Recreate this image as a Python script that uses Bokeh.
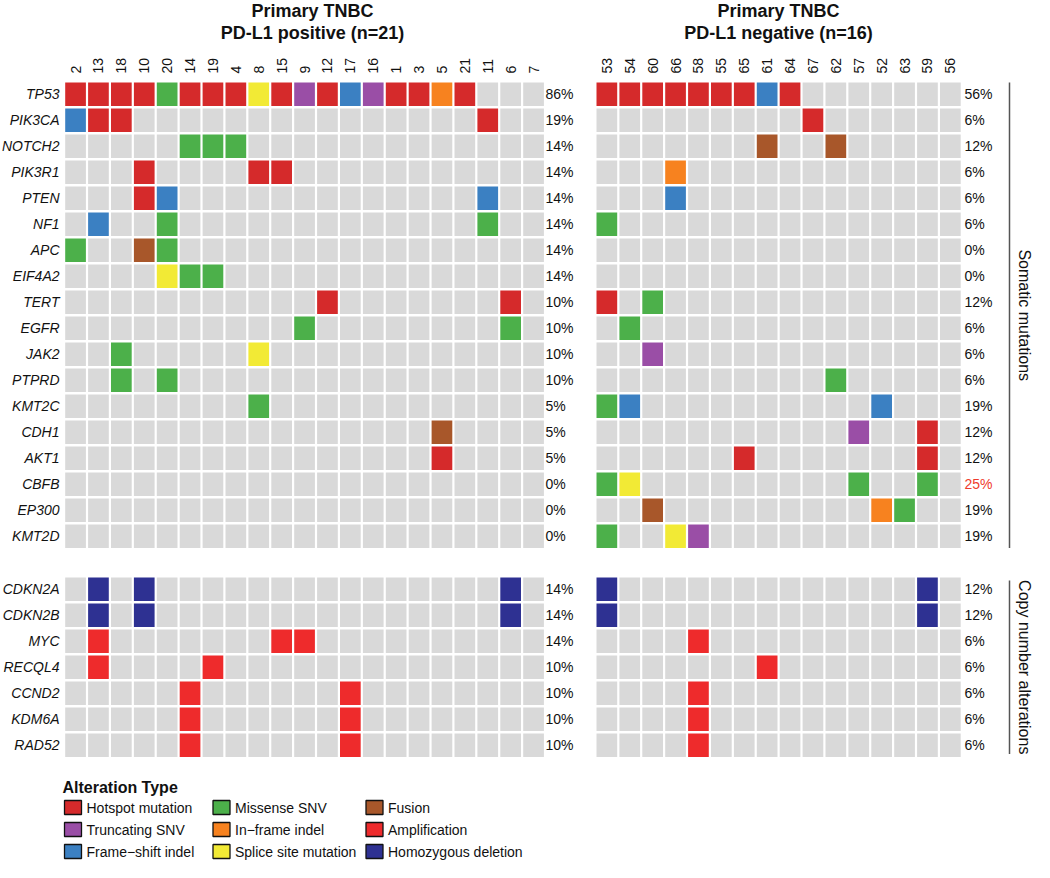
from bokeh.plotting import figure
from bokeh.models import ColumnDataSource, Range1d
from bokeh.core.properties import value
from bokeh.embed import file_html
from bokeh.resources import INLINE
import math

# ---------------- data ----------------
LEFT_SAMPLES = ["2", "13", "18", "10", "20", "14", "19", "4", "8", "15", "9",
                "12", "17", "16", "1", "3", "5", "21", "11", "6", "7"]
RIGHT_SAMPLES = ["53", "54", "60", "66", "58", "55", "65", "61", "64", "67",
                 "62", "57", "52", "63", "59", "56"]

SOMATIC_GENES = ["TP53", "PIK3CA", "NOTCH2", "PIK3R1", "PTEN", "NF1", "APC",
                 "EIF4A2", "TERT", "EGFR", "JAK2", "PTPRD", "KMT2C", "CDH1",
                 "AKT1", "CBFB", "EP300", "KMT2D"]
CNA_GENES = ["CDKN2A", "CDKN2B", "MYC", "RECQL4", "CCND2", "KDM6A", "RAD52"]

# one string per gene, one character per sample ('.' = no alteration)
# H hotspot, T truncating, F frame-shift, M missense, I in-frame,
# S splice site, U fusion, A amplification, D homozygous deletion
LEFT_SOMATIC = [
    "HHHHMHHHSHTHFTHHIH...",
    "FHH...............H..",
    ".....MMM.............",
    "...H....HH...........",
    "...HF.............F..",
    ".F..M.............M..",
    "M..UM................",
    "....SMM..............",
    "...........H.......H.",
    "..........M........M.",
    "..M.....S............",
    "..M.M................",
    "........M............",
    "................U....",
    "................H....",
    ".....................",
    ".....................",
    ".....................",
]
LEFT_CNA = [
    ".D.D...............D.",
    ".D.D...............D.",
    ".A.......AA..........",
    ".A....A..............",
    ".....A......A........",
    ".....A......A........",
    ".....A......A........",
]
RIGHT_SOMATIC = [
    "HHHHHHHFH.......",
    ".........H......",
    ".......U..U.....",
    "...I............",
    "...F............",
    "M...............",
    "................",
    "................",
    "H.M.............",
    ".M..............",
    "..T.............",
    "..........M.....",
    "MF..........F...",
    "...........T..H.",
    "......H.......H.",
    "MS.........M..M.",
    "..U.........IM..",
    "M..ST...........",
]
RIGHT_CNA = [
    "D.............D.",
    "D.............D.",
    "....A...........",
    ".......A........",
    "....A...........",
    "....A...........",
    "....A...........",
]

LEFT_SOMATIC_PCT = ["86%", "19%", "14%", "14%", "14%", "14%", "14%", "14%", "10%",
                    "10%", "10%", "10%", "5%", "5%", "5%", "0%", "0%", "0%"]
LEFT_CNA_PCT = ["14%", "14%", "14%", "10%", "10%", "10%", "10%"]
RIGHT_SOMATIC_PCT = ["56%", "6%", "12%", "6%", "6%", "6%", "0%", "0%", "12%",
                     "6%", "6%", "6%", "19%", "12%", "12%", "25%", "19%", "19%"]
RIGHT_CNA_PCT = ["12%", "12%", "6%", "6%", "6%", "6%", "6%"]
HIGHLIGHT_GENES = ["CBFB"]  # highlighted frequency in the PD-L1 negative panel

LEGEND_CODES = ["H", "T", "F", "M", "I", "S", "U", "A", "D"]
LEGEND_LABELS = ["Hotspot mutation", "Truncating SNV", "Frame\u2212shift indel",
                 "Missense SNV", "In\u2212frame indel", "Splice site mutation",
                 "Fusion", "Amplification", "Homozygous deletion"]

# ---------------- styles ----------------
COLORS = {
    "H": "#d52a2b", "T": "#9a4ea6", "F": "#3b80c2", "M": "#4cb04a",
    "I": "#f7821f", "S": "#f2ea35", "U": "#a8572a", "A": "#ee2b2c",
    "D": "#2e3192", ".": "#d9d9d9",
}
FONT = value("Liberation Sans")
TXT = "#111111"

PX, PY = 22.9, 26.0          # column / row pitch
CW, CH = 20.7, 23.5          # cell size
LEFT_X0, RIGHT_X0 = 72.7, 604.0
SOM_Y0, CNA_Y0 = 90.0, 585.0

for rows, n in [(LEFT_SOMATIC, 21), (LEFT_CNA, 21), (RIGHT_SOMATIC, 16), (RIGHT_CNA, 16)]:
    for r in rows:
        assert len(r) == n, (r, len(r))

p = figure(width=1034, height=862, x_range=Range1d(8, 1042), y_range=Range1d(870, 8),
           output_backend="svg", toolbar_location=None, min_border=0,
           x_axis_location=None, y_axis_location=None, outline_line_color=None,
           background_fill_color="white", border_fill_color="white")
p.grid.visible = False

# ---------------- cells ----------------
cx, cy, cc = [], [], []
def add_block(rows, x0, y0):
    for gi, row in enumerate(rows):
        for si, code in enumerate(row):
            cx.append(x0 + CW / 2 + si * PX)
            cy.append(y0 + CH / 2 + gi * PY)
            cc.append(COLORS[code])

add_block(LEFT_SOMATIC, LEFT_X0, SOM_Y0)
add_block(LEFT_CNA, LEFT_X0, CNA_Y0)
add_block(RIGHT_SOMATIC, RIGHT_X0, SOM_Y0)
add_block(RIGHT_CNA, RIGHT_X0, CNA_Y0)
p.rect(x="x", y="y", width=CW, height=CH, fill_color="c", line_color=None,
       source=ColumnDataSource(dict(x=cx, y=cy, c=cc)))

# ---------------- gene labels ----------------
genes = SOMATIC_GENES + CNA_GENES
gy = [SOM_Y0 + CH / 2 + i * PY for i in range(len(SOMATIC_GENES))] + \
     [CNA_Y0 + CH / 2 + i * PY for i in range(len(CNA_GENES))]
p.text(x=[67] * len(genes), y=gy, text=genes, text_align="right", text_baseline="middle",
       text_font=FONT, text_font_size="14px", text_font_style="italic", text_color=TXT)

# ---------------- percentages ----------------
lp = LEFT_SOMATIC_PCT + LEFT_CNA_PCT
rp = RIGHT_SOMATIC_PCT + RIGHT_CNA_PCT
p.text(x=[553] * len(lp), y=gy, text=lp, text_align="left", text_baseline="middle",
       text_font=FONT, text_font_size="14px", text_color=TXT)
rcol = ["#ef3b2c" if g in HIGHLIGHT_GENES else TXT for g in genes]
p.text(x=[972] * len(rp), y=gy, text=rp, text_align="left", text_baseline="middle",
       text_font=FONT, text_font_size="14px", text_color=rcol)

# ---------------- sample labels ----------------
for samples, x0 in [(LEFT_SAMPLES, LEFT_X0), (RIGHT_SAMPLES, RIGHT_X0)]:
    xs = [x0 + CW / 2 + i * PX for i in range(len(samples))]
    p.text(x=xs, y=[81] * len(xs), text=samples, angle=math.pi / 2,
           text_align="left", text_baseline="middle", text_font=FONT,
           text_font_size="14px", text_color=TXT)

# ---------------- titles ----------------
p.text(x=[320, 320], y=[18, 40], text=["Primary TNBC", "PD-L1 positive (n=21)"],
       text_align="center", text_baseline="middle", text_font=FONT,
       text_font_size="18px", text_font_style="bold", text_color=TXT)
p.text(x=[786, 786], y=[18, 40], text=["Primary TNBC", "PD-L1 negative (n=16)"],
       text_align="center", text_baseline="middle", text_font=FONT,
       text_font_size="18px", text_font_style="bold", text_color=TXT)

# ---------------- side brackets ----------------
som_bot = SOM_Y0 + (len(SOMATIC_GENES) - 1) * PY + CH
cna_bot = CNA_Y0 + (len(CNA_GENES) - 1) * PY + CH
p.segment(x0=[1017, 1017], y0=[SOM_Y0, CNA_Y0 + 3], x1=[1017, 1017], y1=[som_bot, cna_bot - 3],
          line_color="#555555", line_width=1.5)
p.text(x=[1032, 1032], y=[(SOM_Y0 + som_bot) / 2, (CNA_Y0 + cna_bot) / 2],
       text=["Somatic mutations", "Copy number alterations"], angle=-math.pi / 2,
       text_align="center", text_baseline="middle", text_font=FONT,
       text_font_size="16px", text_color=TXT)

# ---------------- legend ----------------
p.text(x=[70], y=[795], text=["Alteration Type"], text_align="left", text_baseline="middle",
       text_font=FONT, text_font_size="16px", text_font_style="bold", text_color=TXT)
col_x = [72.0, 220.5, 373.5]
lx, ly, lc, tx = [], [], [], []
for k, code in enumerate(LEGEND_CODES):
    col, row = divmod(k, 3)
    lx.append(col_x[col] + 8.5)
    ly.append(815 + row * 22)
    lc.append(COLORS[code])
    tx.append(col_x[col] + 22)
p.rect(x=lx, y=ly, width=17, height=14, fill_color=lc, line_color="#111111", line_width=1.3)
p.text(x=tx, y=ly, text=LEGEND_LABELS, text_align="left", text_baseline="middle",
       text_font=FONT, text_font_size="14px", text_color=TXT)

open("out.html", "w").write(file_html(p, INLINE))
